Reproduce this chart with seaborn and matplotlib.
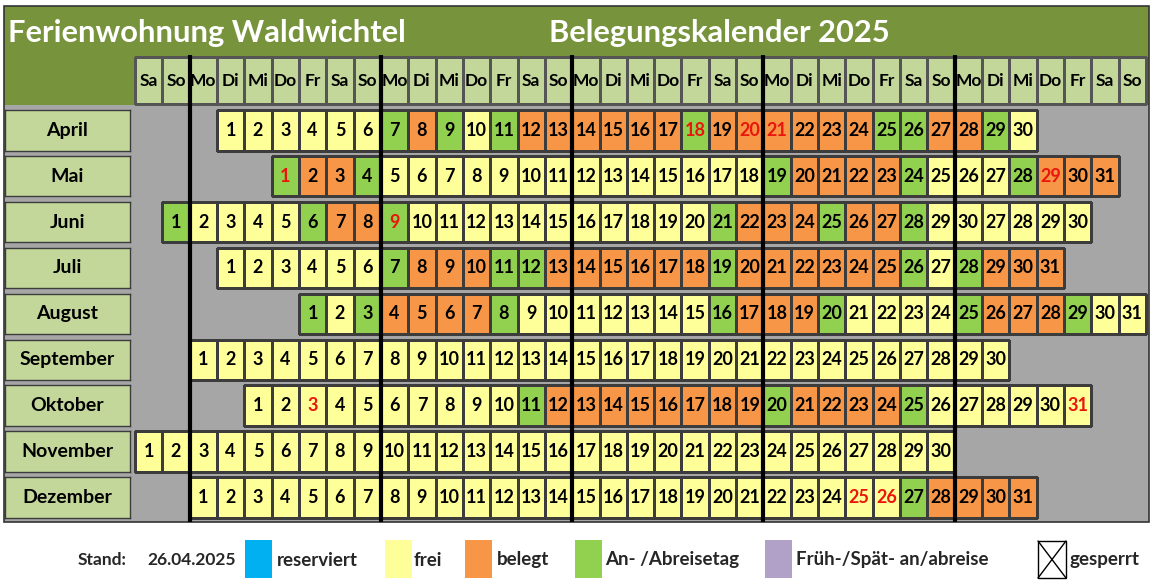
import datetime
import numpy as np
import matplotlib
matplotlib.use("Agg")
import matplotlib.pyplot as plt
import seaborn as sns
from matplotlib.colors import ListedColormap, to_rgba
from matplotlib.patches import Rectangle

# ------------------------------------------
# Data
# ------------------------------------------
year = 2025
months = ["April", "Mai", "Juni", "Juli", "August", "September", "Oktober", "November", "Dezember"]
month_numbers = [4, 5, 6, 7, 8, 9, 10, 11, 12]
weekday_header = ["Sa", "So"] + ["Mo", "Di", "Mi", "Do", "Fr", "Sa", "So"] * 5

# f = frei, b = belegt, a = An-/Abreisetag  (one letter per day, grouped by week)
status_april = "ffffff abafabb bbbbabb bbbbaab baf"
status_mai = "abba fffffff fffffff abbbbaf ffabbb"
status_juni = "a ffffabb afffff f fffffab bbabbaf fffff"
status_juli = "ffffff abbbaab bbbbbab bbbbbaf abbb"
status_august = "afa bbbbaff fffffab bbaffff abbbaff"
status_september = "f" * 30
status_oktober = "fffff fffffab bbbbbbb abbbbaf fffff"
status_november = "f" * 30
status_dezember = "fffffff fffffff fffffff fffff abbbb"
statuses = [status_april, status_mai, status_juni, status_juli, status_august,
            status_september, status_oktober, status_november, status_dezember]

# the June row carries four extra cells after the 30th
extra_days_juni = [27, 28, 29, 30]

# days printed in red (holidays)
red_april = [18, 20, 21]
red_mai = [1, 29]
red_juni = [9]
red_oktober = [3, 31]
red_dezember = [25, 26]
red_days = {"April": red_april, "Mai": red_mai, "Juni": red_juni,
            "Oktober": red_oktober, "Dezember": red_dezember}

stand = "26.04.2025"
legend_labels = ["reserviert", "frei", "belegt", "An- /Abreisetag", "Früh-/Spät- an/abreise"]
legend_colors = ["#00b0f0", "#ffff99", "#f79646", "#92d050", "#b1a0c7"]

# colours
OLIVE = "#77933c"
LIGHT = "#c4d79b"
GREY = "#a6a6a6"
YELLOW, ORANGE, GREEN = "#ffff99", "#f79646", "#92d050"
RED = "#e8160c"
EDGE = "#3c3c3c"
code = {"f": 0, "b": 1, "a": 2}

sns.set_theme(style="white")
plt.rcParams["font.family"] = ["Lato", "DejaVu Sans"]

W, H = 1155, 584
fig = plt.figure(figsize=(W / 100, H / 100), dpi=100)


def rect(x0, y0, x1, y1):
    return [x0 / W, 1 - y1 / H, (x1 - x0) / W, (y1 - y0) / H]


# background: title bar, grey calendar area
bg = fig.add_axes([0, 0, 1, 1])
bg.set_xlim(0, W)
bg.set_ylim(H, 0)
bg.axis("off")
bg.add_patch(Rectangle((4, 6), 1145, 99, color=OLIVE, lw=0))
bg.add_patch(Rectangle((4, 105), 1145, 417, color=GREY, lw=0))
bg.text(8, 33, "Ferienwohnung Waldwichtel", color="white", fontsize=22.2,
        fontweight="bold", va="center", ha="left")
bg.text(549, 33, "Belegungskalender %d" % year, color="white", fontsize=22.2,
        fontweight="bold", va="center", ha="left")

GX0, GX1 = 135, 1146
ncols = len(weekday_header)
colw = (GX1 - GX0) / ncols

# weekday header
hax = fig.add_axes(rect(GX0, 57, GX1, 104))
sns.heatmap(np.zeros((1, ncols)), cmap=ListedColormap([LIGHT]), annot=np.array([weekday_header]),
            fmt="", cbar=False, linewidths=0.8, linecolor="#555555",
            xticklabels=False, yticklabels=False, ax=hax,
            annot_kws=dict(color="black", fontsize=12.5, fontweight="bold"))
hax.collections[0].set_clip_on(False)

cmap = ListedColormap([YELLOW, ORANGE, GREEN])
row_h, pitch, top0 = 40.5, 45.9, 110

for i, (name, m, st) in enumerate(zip(months, month_numbers, statuses)):
    st = st.replace(" ", "")
    days = list(range(1, len(st) + 1))
    if name == "Juni":
        days = list(range(1, 31)) + extra_days_juni
    start = (datetime.date(year, m, 1).weekday() + 2) % 7
    values = np.full((1, ncols), np.nan)
    labels = np.full((1, ncols), "", dtype=object)
    for k, (d, s) in enumerate(zip(days, st)):
        values[0, start + k] = code[s]
        labels[0, start + k] = str(d)

    y0 = top0 + i * pitch
    ax = fig.add_axes(rect(GX0, y0, GX1, y0 + row_h))
    ax.set_facecolor(GREY)
    sns.heatmap(values, mask=np.isnan(values), cmap=cmap, vmin=-0.5, vmax=2.5,
                annot=labels, fmt="", cbar=False, linewidths=0.8, linecolor=EDGE,
                xticklabels=False, yticklabels=False, ax=ax,
                annot_kws=dict(color="black", fontsize=13, fontweight="bold"))
    mesh = ax.collections[0]
    mesh.set_clip_on(False)
    # no outline on the empty (masked) cells
    edge_rgba = np.array([to_rgba(EDGE) if not np.isnan(v) else (0, 0, 0, 0)
                          for v in values.flat])
    mesh.set_edgecolors(edge_rgba)

    reds = red_days.get(name, [])
    for t in ax.texts:
        k = int(t.get_position()[0]) - start
        if days[k] in reds:
            t.set_color(RED)

    # month label box
    lax = fig.add_axes(rect(5, y0, 130, y0 + row_h))
    lax.set_facecolor(LIGHT)
    lax.set_xticks([])
    lax.set_yticks([])
    for sp in lax.spines.values():
        sp.set_color(EDGE)
        sp.set_linewidth(1.0)
    lax.text(0.5, 0.5, name, transform=lax.transAxes, ha="center", va="center",
             fontsize=14, fontweight="bold", color="black")

# overlay: week separators, frame, legend
top = fig.add_axes([0, 0, 1, 1])
top.patch.set_visible(False)
top.set_xlim(0, W)
top.set_ylim(H, 0)
top.axis("off")
for c in range(ncols):
    if weekday_header[c] == "Mo":
        x = GX0 + c * colw
        top.plot([x, x], [55, 522], color="black", lw=3, solid_capstyle="butt")
top.add_patch(Rectangle((4, 6), 1145, 516, fill=False, ec="#333333", lw=1.2))

ly = 560
top.text(78, ly, "Stand:", fontsize=12.5, fontweight="bold", va="center")
top.text(147, ly, stand, fontsize=12.5, fontweight="bold", va="center")
swatch_x = [245, 385, 465, 575, 765]
text_x = [277, 414, 497, 605, 796]
for sx, tx, lab, col in zip(swatch_x, text_x, legend_labels, legend_colors):
    top.add_patch(Rectangle((sx, 540), 27, 38, color=col, lw=0))
    top.text(tx, ly, lab, fontsize=13.5, fontweight="bold", va="center")
top.add_patch(Rectangle((1038, 541), 28, 37, fill=False, ec="black", lw=1))
top.plot([1038, 1066], [541, 578], color="black", lw=1)
top.plot([1038, 1066], [578, 541], color="black", lw=1)
top.text(1070, ly, "gesperrt", fontsize=13.5, fontweight="bold", va="center")

fig.savefig("out.png", dpi=100)
